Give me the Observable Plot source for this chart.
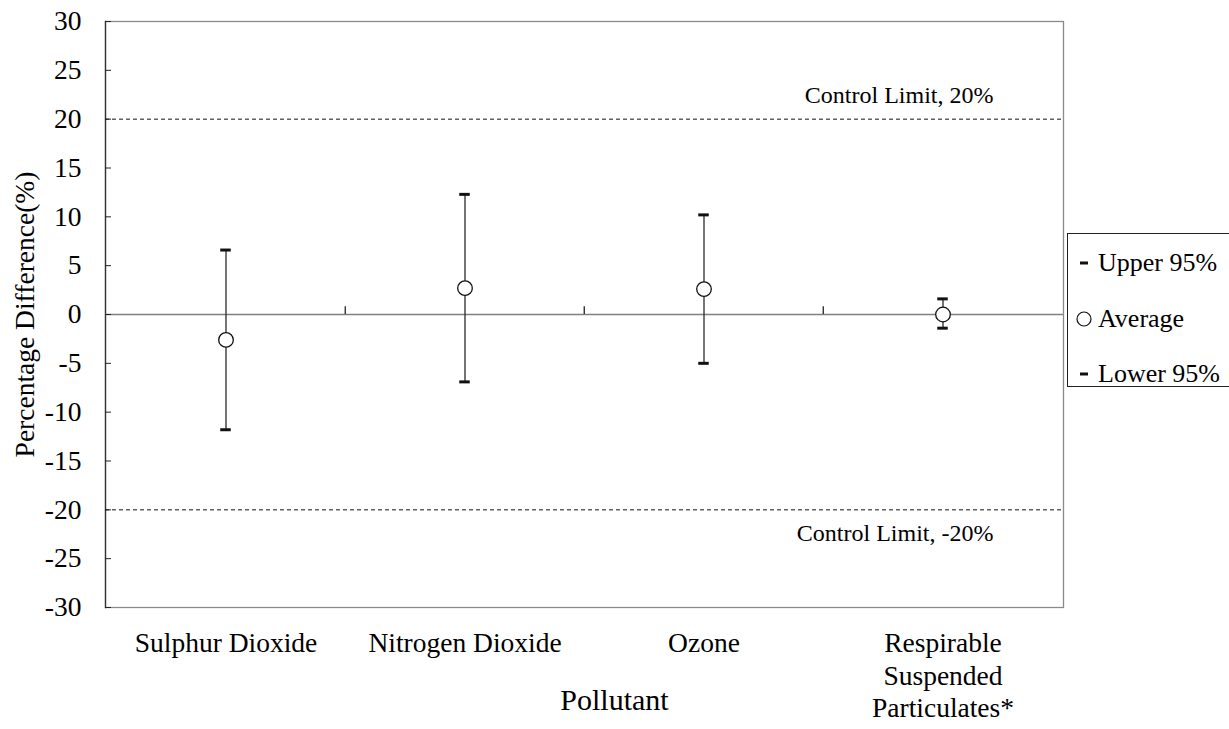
<!DOCTYPE html>
<html>
<head>
<meta charset="utf-8">
<script src="https://cdn.jsdelivr.net/npm/d3@7"></script>
<script src="https://cdn.jsdelivr.net/npm/@observablehq/plot@0.6"></script>
<style>
  html, body { margin: 0; padding: 0; background: white; }
  #wrap { position: relative; width: 1229px; height: 729px; overflow: hidden; font-family: 'Liberation Serif', 'Times New Roman', serif; }
  #legend { position: absolute; left: 1067px; top: 233px; width: 190px; height: 152px; border: 1px solid #222; background: white; }
  .row { position: absolute; left: 0; height: 30px; display: flex; align-items: center; font-size: 26px; color: black; }
  .row svg { margin-left: 8px; margin-right: 6px; }
</style>
</head>
<body>
<div id="wrap"><div id="legend"></div></div>
<script>
const categories = ["Sulphur Dioxide", "Nitrogen Dioxide", "Ozone", "Respirable\nSuspended\nParticulates*"];
const averages = [-2.6, 2.7, 2.6, 0.0];
const upper95 = [6.6, 12.3, 10.2, 1.6];
const lower95 = [-11.8, -6.9, -5.0, -1.4];
const yTicks = [-30, -25, -20, -15, -10, -5, 0, 5, 10, 15, 20, 25, 30];
const controlLimits = [20, -20];
const controlLabels = ["Control Limit, 20%", "Control Limit, -20%"];
const legendLabels = ["Upper 95%", "Average", "Lower 95%"];

const data = categories.map((c, i) => ({category: c, avg: averages[i], upper: upper95[i], lower: lower95[i]}));

const W = 1229, H = 729, mL = 105, mR = 166, mT = 21, mB = 122;
const bw = (W - mL - mR) / categories.length;
const capInset = (bw - 11) / 2;

const chart = Plot.plot({
  width: W,
  height: H,
  marginLeft: mL,
  marginRight: mR,
  marginTop: mT,
  marginBottom: mB,
  style: {fontFamily: "'Liberation Serif', 'Times New Roman', serif", fontSize: "27px", color: "black", background: "white", overflow: "visible"},
  x: {domain: categories, padding: 0, axis: null},
  y: {domain: [-30, 30], axis: null},
  marks: [
    Plot.frame({stroke: "#8a8a8a", strokeWidth: 1.3}),
    Plot.frame({anchor: "left", stroke: "#333", strokeWidth: 1.3}),
    Plot.ruleY([0], {stroke: "#808080", strokeWidth: 1.4}),
    Plot.ruleX(categories.slice(1), {x: d => d, y1: 0, y2: 0.8, dx: -bw / 2, stroke: "#222", strokeWidth: 1.3}),
    Plot.ruleY(controlLimits, {stroke: "#111", strokeWidth: 1, strokeDasharray: "4,3"}),
    Plot.text([controlLabels[0]], {y: controlLimits[0], text: d => d, frameAnchor: "right", textAnchor: "end", dx: -70, dy: -24, fontSize: 24}),
    Plot.text([controlLabels[1]], {y: controlLimits[1], text: d => d, frameAnchor: "right", textAnchor: "end", dx: -70, dy: 23, fontSize: 24}),
    Plot.axisY(yTicks, {tickSize: 6, dx: 6, tickPadding: 24, tickFormat: d => String(d), fontSize: 27.5, stroke: "#222"}),
    Plot.axisX({tickSize: 0, tickPadding: 22, fontSize: 27.5, lineHeight: 1.17, label: null}),
    Plot.text(["Percentage Difference(%)"], {text: d => d, frameAnchor: "left", textAnchor: "middle", lineAnchor: "middle", rotate: -90, dx: -80, fontSize: 27.5}),
    Plot.text(["Pollutant"], {text: d => d, frameAnchor: "bottom", textAnchor: "middle", lineAnchor: "middle", dx: 30, dy: 93, fontSize: 30}),
    Plot.ruleX(data, {x: "category", y1: "lower", y2: "upper", stroke: "#2a2a2a", strokeWidth: 1.3}),
    Plot.tickY(data, {x: "category", y: "upper", stroke: "#111", strokeWidth: 3, insetLeft: capInset, insetRight: capInset}),
    Plot.tickY(data, {x: "category", y: "lower", stroke: "#111", strokeWidth: 3, insetLeft: capInset, insetRight: capInset}),
    Plot.dot(data, {x: "category", y: "avg", r: 7.3, fill: "white", stroke: "#111", strokeWidth: 1.3})
  ]
});
document.getElementById("wrap").prepend(chart);

const legend = document.getElementById("legend");
const rowTops = [14, 70, 125];
const markers = [
  '<svg width="16" height="16"><line x1="4" x2="12" y1="8" y2="8" stroke="#111" stroke-width="3"/></svg>',
  '<svg width="16" height="16"><circle cx="8" cy="8" r="7" fill="white" stroke="#111" stroke-width="1.2"/></svg>',
  '<svg width="16" height="16"><line x1="4" x2="12" y1="8" y2="8" stroke="#111" stroke-width="3"/></svg>'
];
legendLabels.forEach((lab, i) => {
  const r = document.createElement("div");
  r.className = "row";
  r.style.top = rowTops[i] + "px";
  r.innerHTML = markers[i] + "<span>" + lab + "</span>";
  legend.appendChild(r);
});
</script>
</body>
</html>
